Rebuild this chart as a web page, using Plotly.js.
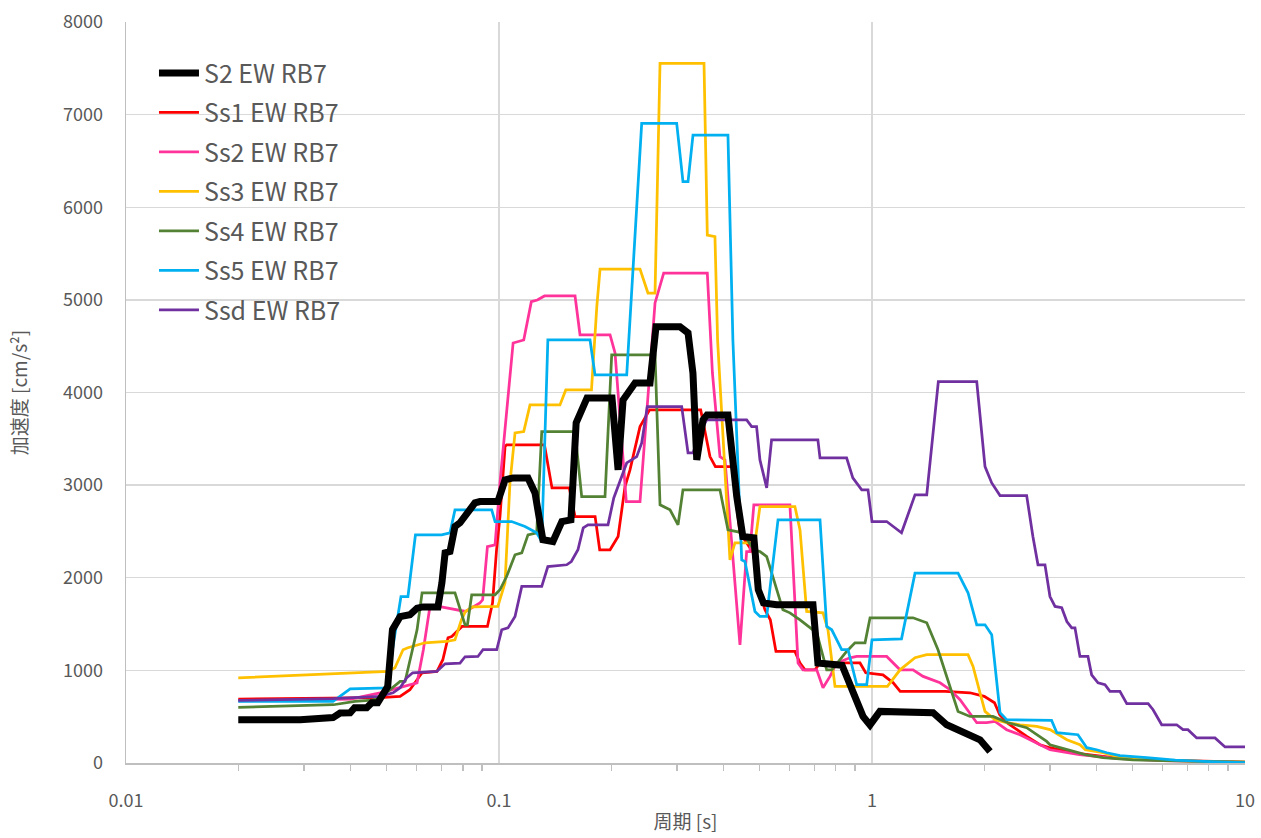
<!DOCTYPE html>
<html>
<head>
<meta charset="utf-8">
<script src="https://cdn.plot.ly/plotly-3.0.1.min.js"></script>
<style>html,body{margin:0;padding:0;background:#fff;}#chart{width:1261px;height:838px;}</style>
</head>
<body>
<div id="chart"></div>
<script>
// Periods [s] and accelerations [cm/s²]
const s2_T = [0.02,0.0293,0.0359,0.0375,0.0399,0.041,0.0442,0.0456,0.0473,0.0488,0.0503,0.0518,0.0543,0.0577,0.0603,0.0625,0.0686,0.0703,0.0717,0.0739,0.0762,0.0786,0.0819,0.0862,0.0889,0.0993,0.1038,0.1091,0.1196,0.1249,0.1311,0.1395,0.1474,0.1559,0.161,0.167,0.1722,0.2009,0.2086,0.2151,0.2316,0.254,0.2636,0.3056,0.3212,0.3311,0.339,0.3523,0.3612,0.4109,0.4237,0.4339,0.4505,0.4824,0.4956,0.5116,0.5548,0.6946,0.716,0.8312,0.9461,0.9877,1.05,1.237,1.458,1.586,1.797,1.948,2.072];
const s2_A = [467,467,490,540,543,597,597,650,650,738,824,1440,1580,1600,1672,1685,1685,1945,2269,2283,2553,2593,2700,2808,2823,2823,3057,3078,3078,2916,2410,2391,2607,2625,3672,3848,3941,3941,3165,3920,4103,4103,4711,4711,4643,4211,3272,3704,3758,3758,3240,2877,2445,2431,1870,1729,1708,1708,1080,1056,503,411,557,543,543,413,305,251,125];

const ss1_T = [0.02,0.04,0.048,0.0543,0.0577,0.0603,0.0622,0.0682,0.0707,0.073,0.0747,0.0796,0.0931,0.0961,0.0985,0.1006,0.1038,0.1048,0.1324,0.1387,0.1543,0.1599,0.181,0.1862,0.1985,0.2086,0.2177,0.2245,0.2388,0.2534,0.3473,0.3678,0.3803,0.4213,0.4426,0.4802,0.5007,0.5164,0.5338,0.5527,0.6213,0.6412,0.6613,0.7034,0.7254,0.9286,0.962,1.07,1.14,1.19,1.57,1.83,2.0,2.13,2.2,2.3,2.4,2.6,2.82,3.0,3.6,4.5,6,8,10];
const ss1_A = [690,700,705,719,791,899,974,989,1115,1352,1366,1474,1474,1729,2302,2661,3416,3434,3434,2970,2970,2661,2661,2302,2302,2445,2985,3165,3632,3812,3812,3308,3200,3200,2485,2269,1838,1654,1546,1204,1204,1080,1006,1006,1080,1080,974,952,866,773,773,758,719,650,521,435,381,287,197,165,100,55,30,15,10];

const ss2_T = [0.02,0.04,0.048,0.055,0.0603,0.0627,0.0653,0.0689,0.0813,0.0889,0.0904,0.0931,0.0976,0.1006,0.1091,0.1165,0.1221,0.1267,0.1324,0.1599,0.1649,0.1985,0.2047,0.2194,0.2388,0.262,0.2764,0.3618,0.3678,0.3734,0.3912,0.4035,0.4426,0.4612,0.4707,0.4822,0.6025,0.6334,0.653,0.711,0.739,0.7716,0.804,0.873,0.910,1.095,1.189,1.288,1.371,1.522,1.619,1.722,1.909,2.03,2.137,2.296,2.493,2.764,3.0,3.6,4.5,6,8,10];
const ss2_A = [670,690,758,826,866,1223,1690,1690,1636,1729,1762,2337,2355,3024,4535,4567,4981,4999,5042,5042,4621,4621,4427,2823,2823,4967,5290,5290,4671,4211,3308,3272,1276,2283,2283,2787,2787,1080,1006,1006,812,935,1080,1136,1150,1150,1006,1006,935,866,791,683,435,435,449,360,305,219,143,90,50,25,12,8];

const ss3_T = [0.02,0.03,0.04,0.0505,0.0526,0.0553,0.057,0.0633,0.0724,0.0762,0.0793,0.0813,0.085,0.0993,0.1038,0.107,0.1104,0.1165,0.1211,0.1457,0.151,0.177,0.1829,0.1866,0.2388,0.2508,0.262,0.2702,0.3545,0.3618,0.3793,0.3855,0.4161,0.4291,0.4855,0.5007,0.6213,0.6412,0.668,0.739,0.762,0.7958,1.10,1.189,1.304,1.402,1.809,1.866,1.948,2.009,2.137,2.296,2.493,2.764,3.0,3.33,3.61,3.73,4.16,4.53,5,6,8,10];
const ss3_A = [920,950,978,989,1028,1223,1244,1298,1312,1330,1546,1636,1686,1690,1945,3024,3564,3578,3866,3866,4028,4028,4927,5333,5333,5074,5074,7554,7554,5700,5682,4566,2193,2377,2377,2769,2769,2517,1636,1621,1438,827,827,1006,1136,1169,1169,1042,758,557,467,435,413,395,360,251,197,143,111,71,50,30,15,10];

const ss4_T = [0.02,0.033,0.036,0.0411,0.0457,0.048,0.051,0.0543,0.056,0.0585,0.0603,0.0622,0.0762,0.0811,0.0823,0.0845,0.0976,0.1006,0.1048,0.1104,0.1151,0.1196,0.1262,0.1302,0.1599,0.1666,0.1924,0.2005,0.262,0.2702,0.2874,0.302,0.3113,0.3912,0.411,0.4505,0.482,0.5007,0.522,0.577,0.6025,0.6412,0.682,0.711,0.756,0.780,0.855,0.90,0.958,0.988,1.288,1.402,1.503,1.701,1.831,2.11,2.315,2.598,2.94,3.0,3.3,3.5,3.73,4.16,5,6,8,10];
const ss4_A = [600,620,629,665,680,705,791,880,880,1223,1438,1838,1838,1492,1492,1816,1816,1870,2013,2248,2269,2463,2485,3578,3578,2877,2877,4406,4406,2787,2733,2571,2949,2949,2517,2485,2302,2283,2229,1654,1621,1546,1459,1405,1006,1006,1204,1298,1298,1568,1568,1514,1223,557,503,503,435,381,233,197,150,125,90,57,35,25,15,10];

const ss5_T = [0.02,0.0359,0.0399,0.048,0.0503,0.0518,0.0546,0.057,0.0597,0.0702,0.0739,0.0762,0.0956,0.0976,0.1081,0.1174,0.1262,0.1302,0.1352,0.1754,0.1809,0.22,0.2413,0.2995,0.3113,0.3212,0.3312,0.411,0.4237,0.4474,0.4564,0.4855,0.5007,0.522,0.5598,0.7254,0.756,0.780,0.8293,0.8624,0.910,0.968,1.0,1.20,1.304,1.701,1.809,1.909,2.009,2.094,2.204,2.296,3.03,3.13,3.565,3.765,4.0,4.26,4.62,5.45,6.5,8,10];
const ss5_A = [665,665,800,812,812,1223,1797,1797,2463,2463,2485,2733,2733,2607,2607,2553,2485,2391,4567,4567,4190,4190,6905,6905,6276,6276,6779,6779,4567,2193,2175,1636,1582,1582,2625,2625,1474,1438,1223,1223,845,845,1330,1341,2050,2050,1838,1492,1492,1384,543,467,460,327,305,165,143,111,79,57,30,15,5];

const ssd_T = [0.02,0.0359,0.048,0.052,0.0543,0.0566,0.0587,0.0681,0.0717,0.0786,0.0811,0.0878,0.0906,0.0986,0.1017,0.1057,0.1104,0.1151,0.1302,0.1352,0.1519,0.1563,0.1628,0.1682,0.1733,0.196,0.2031,0.22,0.234,0.2413,0.2498,0.3089,0.3212,0.3312,0.3458,0.3603,0.4613,0.4757,0.4904,0.5007,0.522,0.538,0.716,0.7254,0.855,0.8883,0.9384,0.9757,1.0,1.095,1.20,1.304,1.402,1.506,1.909,2.009,2.094,2.204,2.598,2.70,2.786,2.909,3.0,3.095,3.226,3.33,3.431,3.501,3.61,3.793,3.88,4.036,4.214,4.345,4.62,4.82,5.5,5.67,5.98,6.56,6.82,7.03,7.42,8.31,8.84,10];
const ssd_A = [676,694,720,758,812,920,974,989,1071,1079,1147,1150,1223,1223,1438,1459,1582,1906,1906,2121,2140,2175,2302,2539,2571,2571,2862,3240,3308,3456,3848,3848,3348,3348,3564,3704,3704,3632,3632,3272,2970,3488,3488,3294,3294,3078,2949,2949,2607,2607,2485,2895,2895,4118,4118,3200,3024,2888,2888,2445,2140,2140,1797,1690,1676,1528,1459,1459,1150,1150,952,866,845,773,773,640,640,575,413,413,360,360,270,270,173,173];

const seriesNames = ["S2 EW RB7","Ss1 EW RB7","Ss2 EW RB7","Ss3 EW RB7","Ss4 EW RB7","Ss5 EW RB7","Ssd EW RB7"];
const xTickVals = [0.01,0.1,1,10];
const xTickText = ["0.01","0.1","1","10"];
const xTitle = "周期 [s]";
const yTitle = "加速度 [cm/s²]";

// minor tick positions: 2..9 in each decade
const xMinorVals = [];
[0.01,0.1,1].forEach(d=>{for(let k=2;k<=9;k++) xMinorVals.push(+(d*k).toPrecision(3));});

const seriesT = [s2_T,ss1_T,ss2_T,ss3_T,ss4_T,ss5_T,ssd_T];
const seriesA = [s2_A,ss1_A,ss2_A,ss3_A,ss4_A,ss5_A,ssd_A];
const colors = ["#000000","#FF0000","#FF3399","#FFC000","#548235","#00B0F0","#7030A0"];
const widths = [7,2.75,2.75,2.75,2.75,2.75,2.75];

const traces = seriesNames.map((n,i)=>({
  type:'scatter', mode:'lines', name:n, x:seriesT[i], y:seriesA[i],
  legendgroup:'g'+i,
  line:{color:colors[i], width:widths[i]}
}));
// draw S2 on top but keep legend order
const order = [1,2,3,4,5,6,0];
const data = order.map(i=>Object.assign({}, traces[i], {legendrank:i+1}));

const grey = '#595959';
const layout = {
  width:1261, height:838,
  margin:{l:126, r:16, t:22, b:75},
  paper_bgcolor:'#ffffff', plot_bgcolor:'#ffffff',
  font:{family:'"Noto Sans CJK JP", "Noto Sans", sans-serif', color:grey, size:16},
  showlegend:true,
  legend:{x:0.025, y:0.962, xanchor:'left', yanchor:'top', bgcolor:'rgba(0,0,0,0)',
    font:{size:25, color:grey}, tracegroupgap:4, itemwidth:40, traceorder:'grouped'},
  xaxis:{type:'log', range:[-2,1], tickvals:xTickVals, ticktext:xTickText,
    showgrid:true, gridcolor:'#d9d9d9', gridwidth:1.3,
    showline:true, linecolor:'#bfbfbf', linewidth:1.5,
    ticks:'', tickfont:{size:18, color:grey}, ticklabelstandoff:21,
    minor:{tickmode:'array', tickvals:xMinorVals, ticks:'outside', ticklen:6, tickcolor:'#bfbfbf', tickwidth:1.3, showgrid:false},
    title:{text:xTitle, font:{size:19, color:grey}, standoff:4},
    zeroline:false},
  yaxis:{range:[0,8000], dtick:1000, tick0:0, tickformat:'d',
    showgrid:true, gridcolor:'#d9d9d9', gridwidth:1.3,
    showline:true, linecolor:'#bfbfbf', linewidth:1.5,
    ticks:'', tickfont:{size:18, color:grey}, ticklabelstandoff:18,
    title:{text:yTitle, font:{size:19, color:grey}, standoff:30},
    zeroline:false}
};
Plotly.newPlot('chart', data, layout, {displayModeBar:false, staticPlot:true});
</script>
</body>
</html>
